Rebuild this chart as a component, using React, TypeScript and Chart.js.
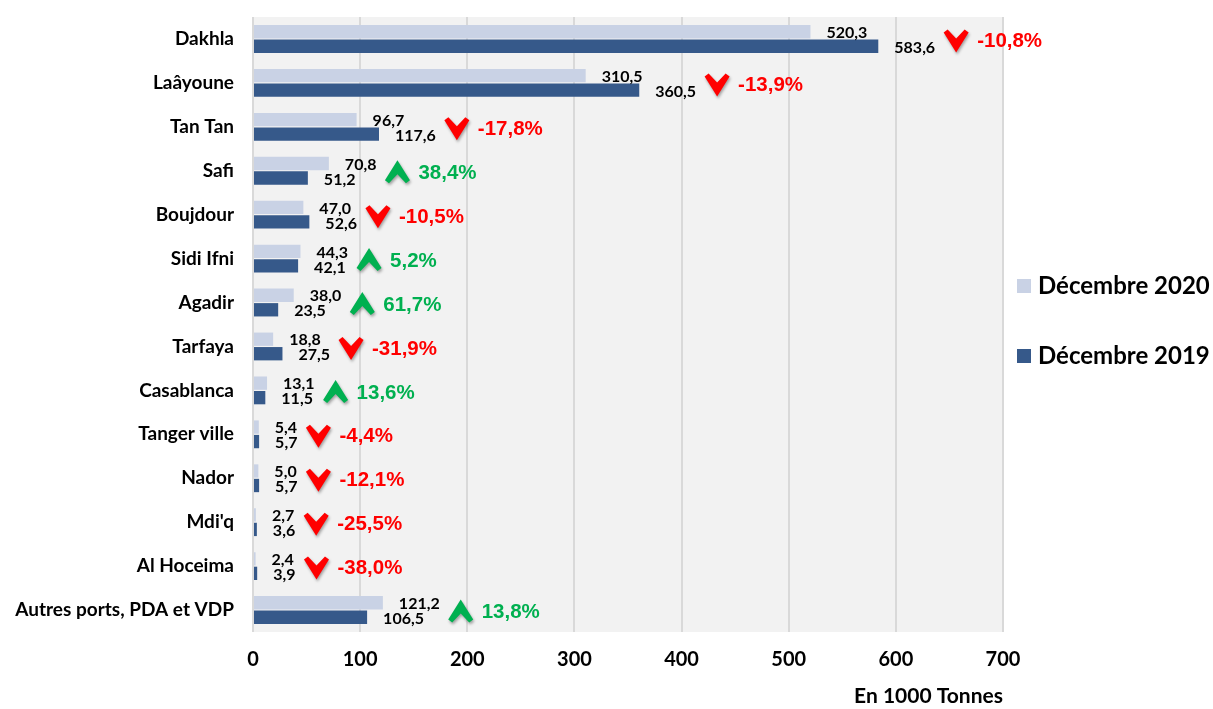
import React, { useEffect, useRef } from "react";
import { Chart, registerables } from "chart.js";

Chart.register(...registerables);

const categories = [
  "Dakhla",
  "Laâyoune",
  "Tan Tan",
  "Safi",
  "Boujdour",
  "Sidi Ifni",
  "Agadir",
  "Tarfaya",
  "Casablanca",
  "Tanger ville",
  "Nador",
  "Mdi'q",
  "Al Hoceima",
  "Autres ports, PDA et VDP",
];
const values2020 = [520.3, 310.5, 96.7, 70.8, 47.0, 44.3, 38.0, 18.8, 13.1, 5.4, 5.0, 2.7, 2.4, 121.2];
const values2019 = [583.6, 360.5, 117.6, 51.2, 52.6, 42.1, 23.5, 27.5, 11.5, 5.7, 5.7, 3.6, 3.9, 106.5];
const changeLabels = [
  "-10,8%", "-13,9%", "-17,8%", "38,4%", "-10,5%", "5,2%", "61,7%",
  "-31,9%", "13,6%", "-4,4%", "-12,1%", "-25,5%", "-38,0%", "13,8%",
];
const seriesNames = ["Décembre 2020", "Décembre 2019"];
const axisTitle = "En 1000 Tonnes";

const COLOR_2020 = "#c9d2e5";
const COLOR_2019 = "#36598a";
const RED = "#ff0000";
const GREEN = "#00b050";
const FONT = "Lato";

const fmt = (v: number) => v.toFixed(1).replace(".", ",");

const decorPlugin = {
  id: "decor",
  beforeDraw(chart: any) {
    const { ctx, chartArea } = chart;
    ctx.save();
    ctx.fillStyle = "#f2f2f2";
    ctx.fillRect(chartArea.left, chartArea.top, chartArea.right - chartArea.left, chartArea.bottom - chartArea.top);
    ctx.restore();
  },
  afterDatasetsDraw(chart: any) {
    const { ctx } = chart;
    const m0 = chart.getDatasetMeta(0).data;
    const m1 = chart.getDatasetMeta(1).data;
    ctx.save();
    for (let i = 0; i < categories.length; i++) {
      const b0 = m0[i];
      const b1 = m1[i];
      const t0 = fmt(values2020[i]);
      const t1 = fmt(values2019[i]);
      const x0 = b0.x + 16;
      const x1 = b1.x + 16;
      ctx.font = `bold 16px ${FONT}`;
      ctx.fillStyle = "#000";
      ctx.textAlign = "left";
      ctx.textBaseline = "middle";
      ctx.fillText(t0, x0, b0.y + 1);
      ctx.fillText(t1, x1, b1.y + 1.5);
      const right = Math.max(x0 + ctx.measureText(t0).width, x1 + ctx.measureText(t1).width);
      const cy = (b0.y + b1.y) / 2 + 1.5;
      const ax = right + 21;
      const label = changeLabels[i];
      const up = !label.startsWith("-");
      const col = up ? GREEN : RED;
      ctx.save();
      ctx.shadowColor = "rgba(0,0,0,0.35)";
      ctx.shadowBlur = 3;
      ctx.shadowOffsetX = 1;
      ctx.shadowOffsetY = 2;
      ctx.fillStyle = col;
      ctx.beginPath();
      if (up) {
        ctx.moveTo(ax, cy - 12);
        ctx.lineTo(ax + 12.5, cy + 8);
        ctx.lineTo(ax + 8.5, cy + 11);
        ctx.lineTo(ax, cy + 2);
        ctx.lineTo(ax - 8.5, cy + 11);
        ctx.lineTo(ax - 12.5, cy + 8);
      } else {
        ctx.moveTo(ax, cy + 12);
        ctx.lineTo(ax + 12.5, cy - 8);
        ctx.lineTo(ax + 8.5, cy - 11);
        ctx.lineTo(ax, cy - 2);
        ctx.lineTo(ax - 8.5, cy - 11);
        ctx.lineTo(ax - 12.5, cy - 8);
      }
      ctx.closePath();
      ctx.fill();
      ctx.restore();
      ctx.font = `bold 20.5px "Liberation Sans"`;
      ctx.fillStyle = col;
      ctx.textAlign = "left";
      ctx.textBaseline = "middle";
      ctx.fillText(label, ax + 21, cy + 1);
    }
    ctx.restore();
  },
  afterDraw(chart: any) {
    const { ctx } = chart;
    ctx.save();
    const items = [
      { name: seriesNames[0], color: COLOR_2020, y: 286 },
      { name: seriesNames[1], color: COLOR_2019, y: 356 },
    ];
    for (const it of items) {
      ctx.fillStyle = it.color;
      ctx.fillRect(1017, it.y - 7, 14, 14);
      ctx.fillStyle = "#000";
      ctx.font = `bold 24px ${FONT}`;
      ctx.textAlign = "left";
      ctx.textBaseline = "middle";
      ctx.fillText(it.name, 1038, it.y);
    }
    ctx.restore();
  },
};

export default function App() {
  const ref = useRef<HTMLCanvasElement | null>(null);
  useEffect(() => {
    if (!ref.current) return;
    const chart = new Chart(ref.current, {
      type: "bar",
      data: {
        labels: categories,
        datasets: [
          { label: seriesNames[0], data: values2020, backgroundColor: COLOR_2020 },
          { label: seriesNames[1], data: values2019, backgroundColor: COLOR_2019 },
        ],
      },
      options: {
        indexAxis: "y",
        animation: false,
        responsive: true,
        maintainAspectRatio: false,
        datasets: { bar: { categoryPercentage: 0.66, barPercentage: 0.92 } },
        layout: { padding: { top: 17, right: 210, left: 0, bottom: 0 } },
        plugins: { legend: { display: false }, tooltip: { enabled: false } },
        scales: {
          x: {
            min: 0,
            max: 700,
            ticks: { stepSize: 100, color: "#000", font: { family: FONT, size: 20, weight: "bold" }, padding: 16 },
            grid: { color: "#d9d9d9", lineWidth: 2, drawTicks: false },
            border: { display: false },
            title: {
              display: true,
              text: axisTitle,
              align: "end",
              color: "#000",
              font: { family: FONT, size: 21, weight: "bold" },
              padding: { top: 0, bottom: 0 },
            },
            afterFit: (s: any) => { s.height = 77; },
          },
          y: {
            ticks: { color: "#000", font: { family: FONT, size: 19, weight: "bold" }, padding: 19 },
            grid: { display: false, drawTicks: false },
            border: { display: false },
            afterFit: (s: any) => { s.width = 253; s.paddingTop = 0; s.paddingBottom = 0; },
          },
        },
      },
      plugins: [decorPlugin],
    });
    return () => chart.destroy();
  }, []);
  return (
    <div style={{ position: "absolute", left: 0, top: 0, width: 1213, height: 709, background: "#fff" }}>
      <canvas ref={ref} />
    </div>
  );
}
